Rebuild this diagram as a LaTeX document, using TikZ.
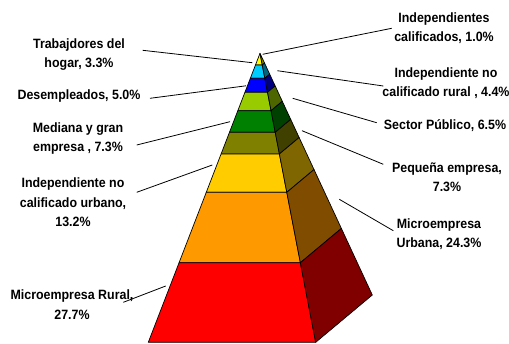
\documentclass[tikz,border=0pt]{standalone}
\usepackage{fontspec}
\setmainfont{Liberation Sans}[FakeStretch=0.92]
\usetikzlibrary{calc}
\definecolor{tipF}{HTML}{FFFF00}\definecolor{tipS}{HTML}{808000}
\definecolor{cyF}{HTML}{00CCFF}\definecolor{cyS}{HTML}{006680}
\definecolor{blF}{HTML}{0000FF}\definecolor{blS}{HTML}{000080}
\definecolor{lgF}{HTML}{99CC00}\definecolor{lgS}{HTML}{4D6600}
\definecolor{grF}{HTML}{008000}\definecolor{grS}{HTML}{004000}
\definecolor{olF}{HTML}{808000}\definecolor{olS}{HTML}{404000}
\definecolor{goF}{HTML}{FFCC00}\definecolor{goS}{HTML}{806600}
\definecolor{orF}{HTML}{FF9900}\definecolor{orS}{HTML}{804D00}
\definecolor{rdF}{HTML}{FF0000}\definecolor{rdS}{HTML}{800000}
\begin{document}
\begin{tikzpicture}[x=1pt,y=-1pt,
  lbl/.style={font=\fontsize{13.5}{19.3}\selectfont\bfseries, align=center, inner sep=0pt},
  leader/.style={draw=black, line width=0.8pt},
  face/.style={draw=black, line width=0.7pt, line join=round}]
\useasboundingbox (0,0) rectangle (509,343);
\coordinate (A) at (260,53.3);
\coordinate (FL) at (148.3,342.3);
\coordinate (FR) at (315.7,342.3);
\coordinate (BR) at (372.3,295);
\foreach \ta/\tb/\cf/\cs in {0/0.0405/tipF/tipS, 0.0405/0.0865/cyF/cyS, 0.0865/0.135/blF/blS,
  0.135/0.1986/lgF/lgS, 0.1986/0.2734/grF/grS, 0.2734/0.3484/olF/olS, 0.3484/0.481/goF/goS,
  0.481/0.7246/orF/orS, 0.7246/1/rdF/rdS}{
  \filldraw[face, fill=\cf] ($(A)!\ta!(FL)$) -- ($(A)!\ta!(FR)$) -- ($(A)!\tb!(FR)$) -- ($(A)!\tb!(FL)$) -- cycle;
  \filldraw[face, fill=\cs] ($(A)!\ta!(FR)$) -- ($(A)!\ta!(BR)$) -- ($(A)!\tb!(BR)$) -- ($(A)!\tb!(FR)$) -- cycle;
}
% labels
\node[lbl] (hog) at (79,54.5) {Trabajdores del\\hogar, 3.3\%};
\node[lbl] (des) at (79,95.7) {Desempleados, 5.0\%};
\node[lbl] (med) at (78,138.7) {Mediana y gran\\empresa , 7.3\%};
\node[lbl] (urb) at (73,202.3) {Independiente no\\calificado urbano,\\13.2\%};
\node[lbl] (mrr) at (72,304.7) {Microempresa Rural,\\27.7\%};
\node[lbl] (cal) at (444,28) {Independientes\\calificados, 1.0\%};
\node[lbl] (rur) at (446,83) {Independiente no\\calificado rural , 4.4\%};
\node[lbl] (pub) at (445,126) {Sector Público, 6.5\%};
\node[lbl] (peq) at (447,177) {Pequeña empresa,\\7.3\%};
\node[lbl] (mur) at (439,234) {Microempresa\\Urbana, 24.3\%};
% leader ends
\coordinate (hog1) at (142.7,50.3); \coordinate (hog2) at (252.3,62.7);
\coordinate (des1) at (150,98.3);   \coordinate (des2) at (246,85.8);
\coordinate (med1) at (136.7,145);  \coordinate (med2) at (230,121.7);
\coordinate (urb1) at (136.7,192.3);\coordinate (urb2) at (212.3,165);
\coordinate (mrr1) at (123.3,302.3);\coordinate (mrr2) at (165.7,286);
\coordinate (cal1) at (391.7,28.3); \coordinate (cal2) at (262.7,54.3);
\coordinate (rur1) at (383.3,86);   \coordinate (rur2) at (277.3,70.7);
\coordinate (pub1) at (376.7,122.7);\coordinate (pub2) at (292.7,98.3);
\coordinate (peq1) at (383.3,164.3);\coordinate (peq2) at (302,130.7);
\coordinate (mur1) at (393.3,230.7);\coordinate (mur2) at (339.3,199.3);
\foreach \n in {hog,des,med,urb,mrr,cal,rur,pub,peq,mur}{
  \draw[leader] (\n1) -- (\n2);
}
\end{tikzpicture}
\end{document}
